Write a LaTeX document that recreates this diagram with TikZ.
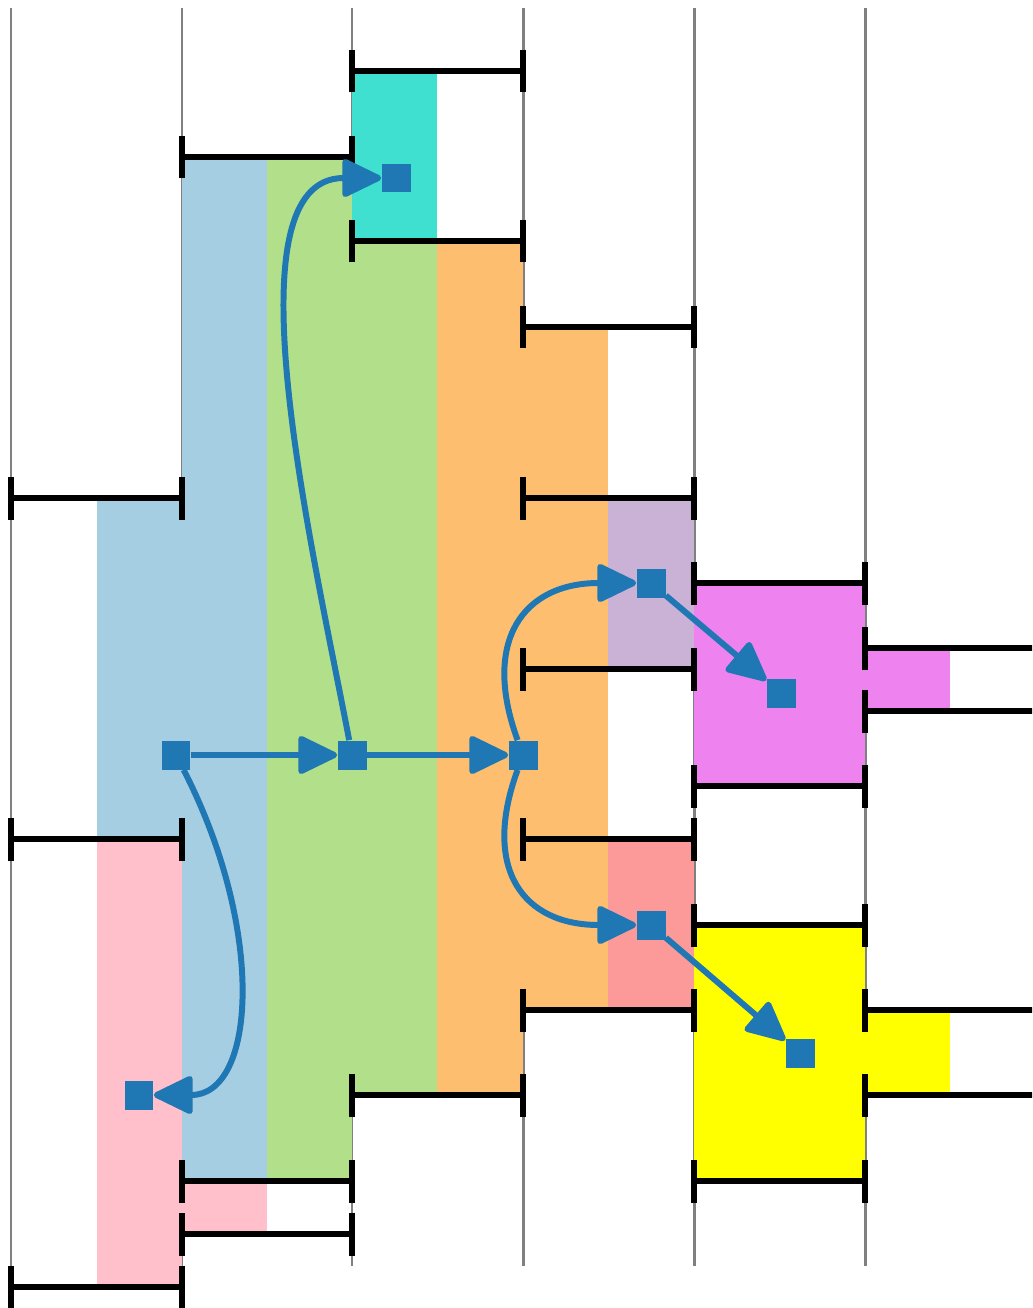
\documentclass[tikz,border=0pt]{standalone}
\definecolor{LaneGray}{RGB}{128,128,128}
\definecolor{MarkBlue}{RGB}{31,119,180}
\definecolor{TurqFill}{RGB}{64,224,208}
\definecolor{BlueFill}{RGB}{166,206,227}
\definecolor{GreenFill}{RGB}{178,223,138}
\definecolor{OrangeFill}{RGB}{253,191,111}
\definecolor{PurpleFill}{RGB}{202,178,214}
\definecolor{SalmonFill}{RGB}{251,154,153}
\definecolor{VioletFill}{RGB}{238,130,238}
\definecolor{YellowFill}{RGB}{255,255,0}
\definecolor{PinkFill}{RGB}{255,192,203}
\usepackage{tikz}
\usepackage{xcolor}
\usetikzlibrary{arrows.meta}

\begin{document}
\begin{tikzpicture}[x=0.02cm, y=-0.02cm,
  lane/.style={draw=LaneGray, line width=1.7pt},
  span/.style={line width=3.4pt, shorten <=-1.7pt, shorten >=-1.7pt,
    arrows={Bar[width=0.86cm]-Bar[width=0.86cm]}},
  marker/.style={rectangle, fill=MarkBlue, minimum size=0.58cm, inner sep=0pt},
  link/.style={-{Triangle[length=0.86cm, width=0.8cm, round]}, line width=3.4pt, MarkBlue}
]
    \useasboundingbox (0,0) rectangle (1032,1308);
    \clip (0,0) rectangle (1032,1308);

    \draw[lane] (11,8) -- (11,1266);
    \draw[lane] (182,8) -- (182,1266);
    \draw[lane] (352,8) -- (352,1266);
    \draw[lane] (523,8) -- (523,1266);
    \draw[lane] (694,8) -- (694,1266);
    \draw[lane] (865,8) -- (865,1266);

    \fill[TurqFill] (352,71) rectangle (437,241);
    \fill[BlueFill] (182,157) rectangle (267,1181);
    \fill[BlueFill] (97,498) rectangle (182,839);
    \fill[GreenFill] (267,157) rectangle (352,1181);
    \fill[GreenFill] (352,241) rectangle (437,1095);
    \fill[OrangeFill] (437,241) rectangle (523,1095);
    \fill[OrangeFill] (523,327) rectangle (608,1010);
    \fill[PurpleFill] (608,498) rectangle (694,669);
    \fill[SalmonFill] (608,839) rectangle (694,1010);
    \fill[VioletFill] (694,583) rectangle (865,786);
    \fill[VioletFill] (865,648) rectangle (950,711);
    \fill[YellowFill] (694,925) rectangle (865,1181);
    \fill[YellowFill] (865,1010) rectangle (950,1095);
    \fill[PinkFill] (97,839) rectangle (182,1287);
    \fill[PinkFill] (182,1181) rectangle (267,1234);

    \draw[span] (352,71) -- (523,71);
    \draw[span] (182,157) -- (352,157);
    \draw[span] (352,241) -- (523,241);
    \draw[span] (523,327) -- (694,327);
    \draw[span] (11,498) -- (182,498);
    \draw[span] (523,498) -- (694,498);
    \draw[span] (694,583) -- (865,583);
    \draw[span] (865,648) -- (1036,648);
    \draw[span] (523,669) -- (694,669);
    \draw[span] (865,711) -- (1036,711);
    \draw[span] (694,786) -- (865,786);
    \draw[span] (11,839) -- (182,839);
    \draw[span] (523,839) -- (694,839);
    \draw[span] (694,925) -- (865,925);
    \draw[span] (523,1010) -- (694,1010);
    \draw[span] (865,1010) -- (1036,1010);
    \draw[span] (352,1095) -- (523,1095);
    \draw[span] (865,1095) -- (1036,1095);
    \draw[span] (182,1181) -- (352,1181);
    \draw[span] (694,1181) -- (865,1181);
    \draw[span] (182,1234) -- (352,1234);
    \draw[span] (11,1287) -- (182,1287);

    \node[marker] (mkCyan) at (396,178) {};
    \node[marker] (mkBlue) at (176,755) {};
    \node[marker] (mkGreen) at (352,755) {};
    \node[marker] (mkOrange) at (523,755) {};
    \node[marker] (mkPurple) at (651,583) {};
    \node[marker] (mkViolet) at (781,693) {};
    \node[marker] (mkSalmon) at (651,925) {};
    \node[marker] (mkYellow) at (800,1053) {};
    \node[marker] (mkPink) at (139,1095) {};

    \draw[link] (mkBlue) -- (mkGreen);
    \draw[link] (mkGreen) -- (mkOrange);
    \draw[link] (mkGreen) .. controls (312,545) and (225,178) .. (mkCyan);
    \draw[link] (mkBlue) .. controls (266,930) and (256,1095) .. (mkPink);
    \draw[link] (mkOrange) .. controls (481,640) and (524,583) .. (mkPurple);
    \draw[link] (mkOrange) .. controls (481,870) and (524,925) .. (mkSalmon);
    \draw[link] (mkPurple) -- (mkViolet);
    \draw[link] (mkSalmon) -- (mkYellow);
\end{tikzpicture}
\end{document}
